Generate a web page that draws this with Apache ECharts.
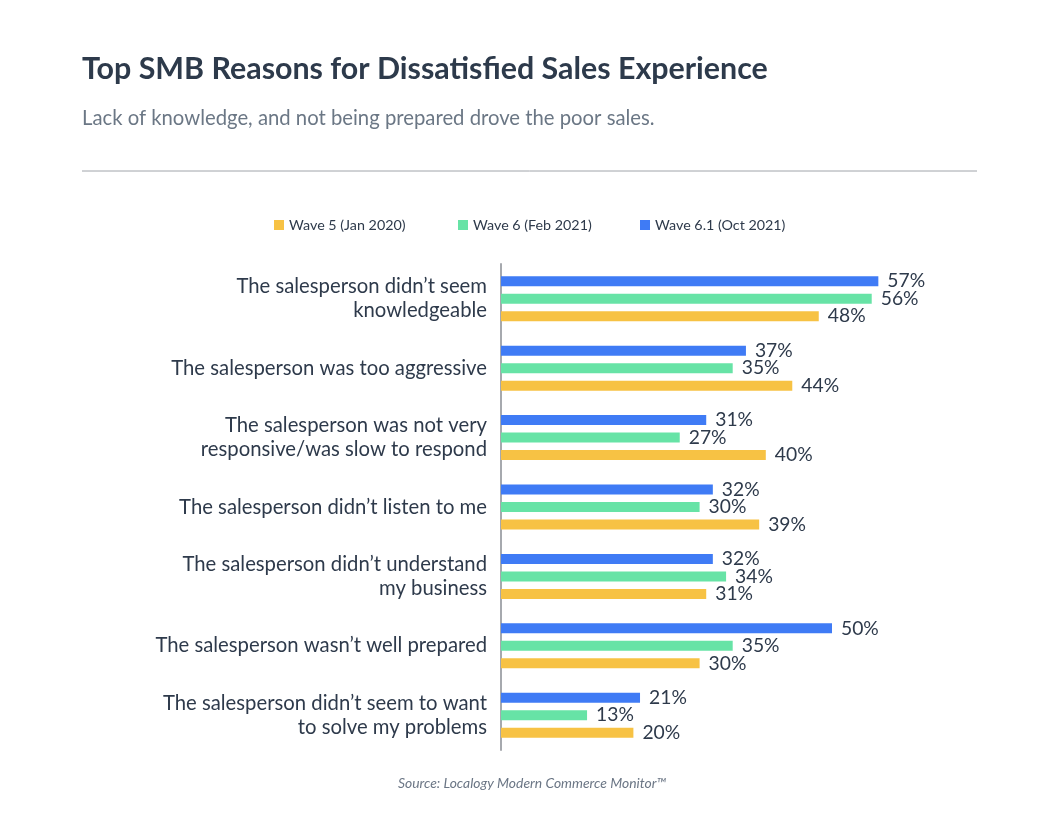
<!DOCTYPE html>
<html>
<head>
<meta charset="utf-8">
<script src="https://cdn.jsdelivr.net/npm/echarts@6.0.0/dist/echarts.min.js"></script>
<style>
  html, body { margin: 0; padding: 0; background: #fff; }
  #chart { width: 1064px; height: 816px; }
</style>
</head>
<body>
<div id="chart"></div>
<script>
// categories, top to bottom as shown
const reasons = [
  'The salesperson didn\u2019t seem\nknowledgeable',
  'The salesperson was too aggressive',
  'The salesperson was not very\nresponsive/was slow to respond',
  'The salesperson didn\u2019t listen to me',
  'The salesperson didn\u2019t understand\nmy business',
  'The salesperson wasn\u2019t well prepared',
  'The salesperson didn\u2019t seem to want\nto solve my problems',
];
const wave5 = [48, 44, 40, 39, 31, 30, 20];
const wave6 = [56, 35, 27, 30, 34, 35, 13];
const wave61 = [57, 37, 31, 32, 32, 50, 21];
const seriesNames = ['Wave 5 (Jan 2020)', 'Wave 6 (Feb 2021)', 'Wave 6.1 (Oct 2021)'];

const colors = ['#f7c244', '#67e3a6', '#3f7bf5'];
const fontFamily = 'Lato, "Noto Sans", sans-serif';
const textColor = '#2e3a4b';

const chart = echarts.init(document.getElementById('chart'));

// y axis is not inversed, so reverse to keep top-to-bottom order
const cats = reasons.slice().reverse();
const allValues = [wave5, wave6, wave61].map(arr => arr.slice().reverse());

const legendLeft = [274, 458, 640];

// draw newest wave first so it sits on top within each group
const drawOrder = [2, 1, 0];

chart.setOption({
  animation: false,
  title: [
    {
      text: 'Top SMB Reasons for Dissatisfied Sales Experience',
      left: 82,
      top: 54,
      padding: 0,
      textStyle: { fontFamily, fontSize: 30.4, fontWeight: 'bold', color: '#2d3a4b' },
    },
    {
      text: 'Lack of knowledge, and not being prepared drove the poor sales.',
      left: 82,
      top: 108,
      padding: 0,
      textStyle: { fontFamily, fontSize: 20.3, fontWeight: 'normal', color: '#6b7785' },
    },
    {
      text: 'Source: Localogy Modern Commerce Monitor\u2122',
      left: 'center',
      top: 777,
      padding: 0,
      textStyle: { fontFamily, fontSize: 13.9, fontStyle: 'italic', fontWeight: 'normal', color: '#6b7685' },
    },
  ],
  graphic: [
    {
      type: 'line',
      shape: { x1: 82, y1: 171, x2: 977, y2: 171 },
      style: { stroke: '#a0a4aa', lineWidth: 1 },
    },
  ],
  legend: seriesNames.map((name, i) => ({
    data: [name],
    left: legendLeft[i],
    top: 218,
    padding: 0,
    icon: 'rect',
    itemWidth: 10,
    itemHeight: 10,
    itemGap: 6,
    selectedMode: false,
    textStyle: { fontFamily, fontSize: 14.3, color: textColor },
  })),
  grid: { left: 501, top: 264, width: 500, height: 486 },
  xAxis: {
    type: 'value',
    min: 0,
    max: 500 / 6.62,
    show: false,
  },
  yAxis: {
    type: 'category',
    data: cats,
    axisLine: { show: true, lineStyle: { color: '#a6a9ae', width: 2 } },
    axisTick: { show: false },
    axisLabel: {
      margin: 14,
      align: 'right',
      fontFamily,
      fontSize: 20.3,
      lineHeight: 24,
      color: textColor,
    },
  },
  series: drawOrder.map(i => ({
    name: seriesNames[i],
    type: 'bar',
    data: allValues[i],
    itemStyle: { color: colors[i] },
    barWidth: 10,
    barGap: '75%',
    label: {
      show: true,
      position: 'right',
      distance: 9,
      formatter: '{c}%',
      fontFamily,
      fontSize: 19.3,
      color: textColor,
    },
  })),
});
</script>
</body>
</html>
